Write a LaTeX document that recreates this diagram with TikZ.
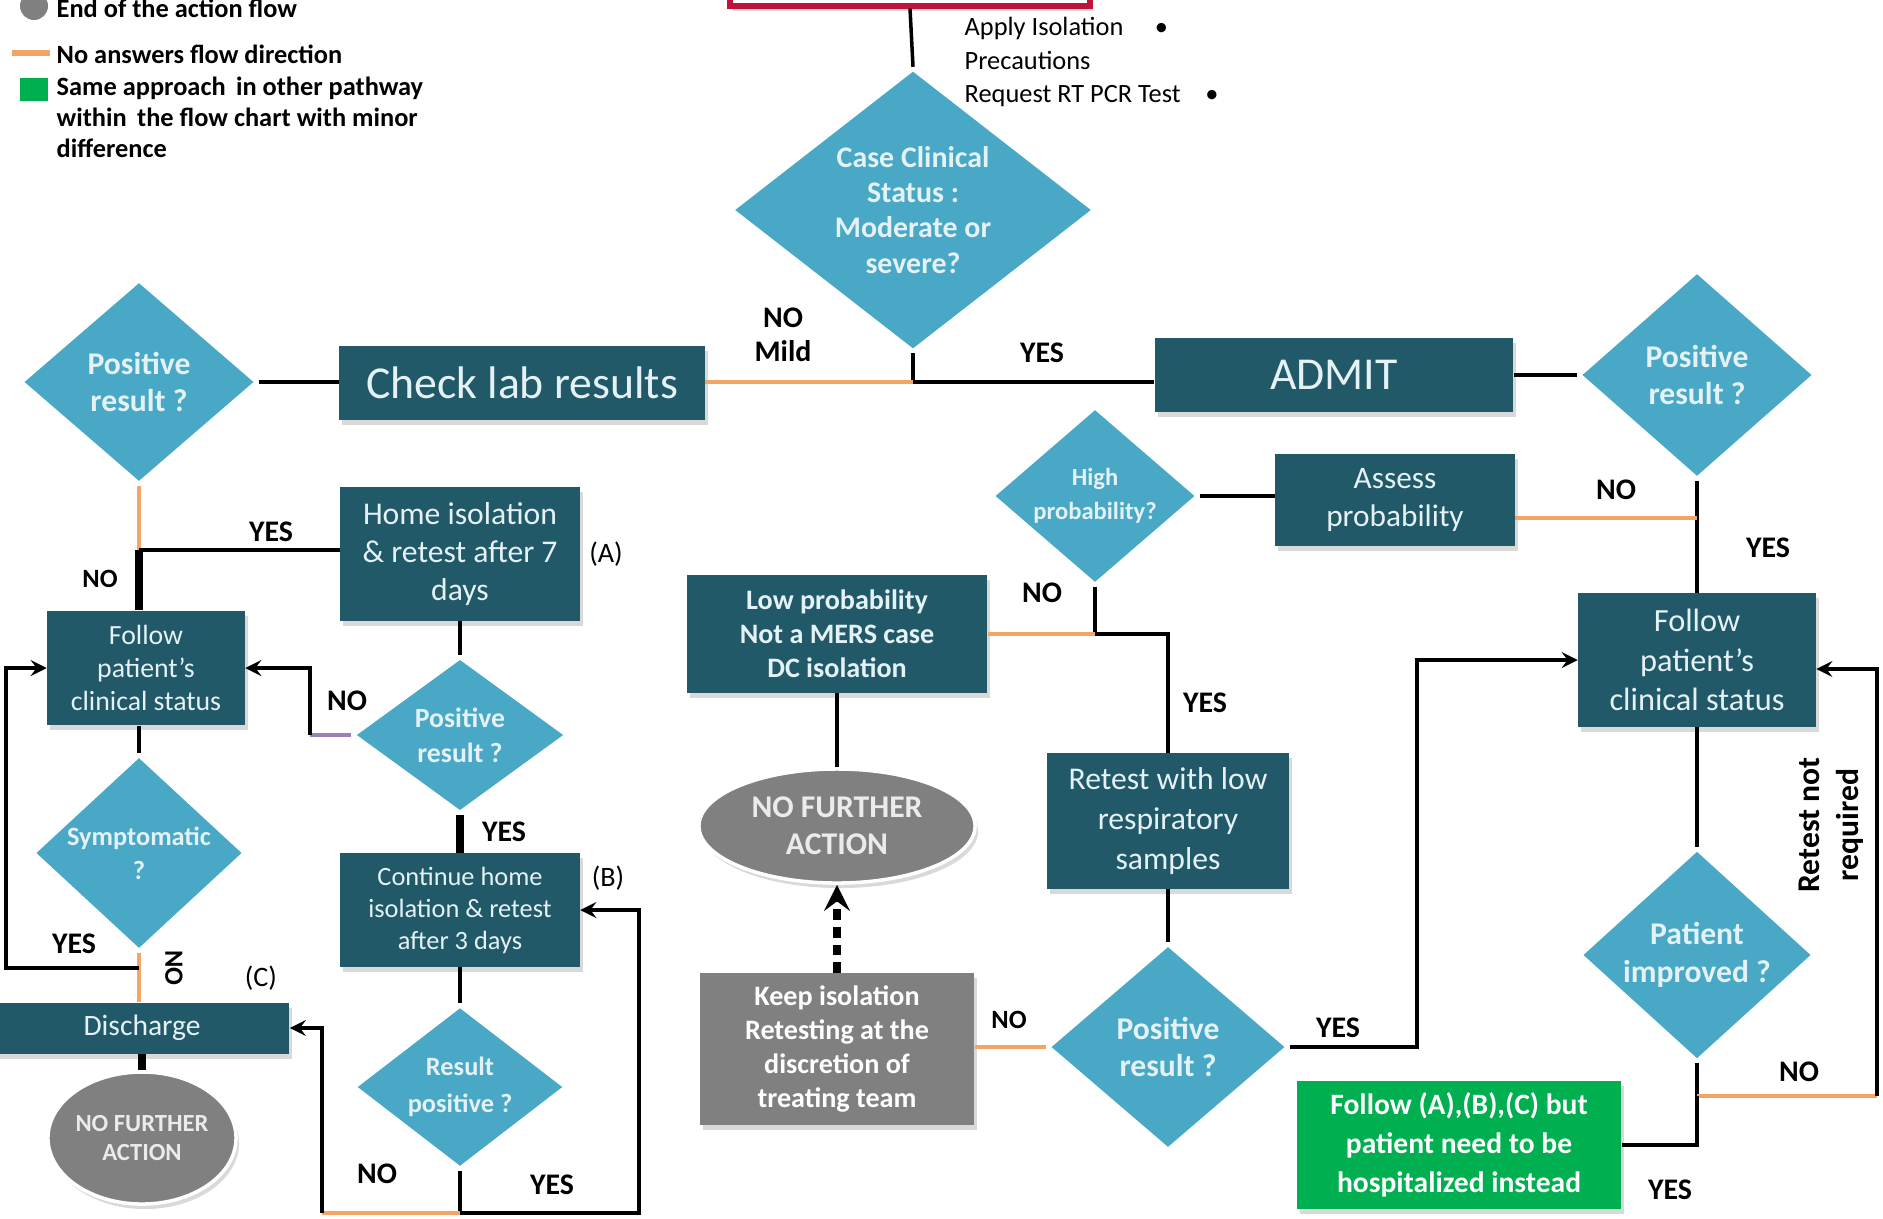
\documentclass[tikz,border=0pt]{standalone}
\usepackage{fontspec}
\setmainfont{Carlito}
\usetikzlibrary{shapes.geometric,shadows}

\definecolor{boxteal}{RGB}{33,89,104}
\definecolor{diamblue}{RGB}{72,168,198}
\definecolor{endgray}{RGB}{128,128,128}
\definecolor{noorange}{RGB}{242,165,100}
\definecolor{samegreen}{RGB}{0,176,80}
\definecolor{boxtxt}{RGB}{228,242,246}
\definecolor{topred}{RGB}{190,20,60}
\definecolor{nopurple}{RGB}{150,130,180}

\newcommand{\setfs}[2]{\fontsize{#1}{#2}\selectfont}

\tikzset{
  shade box/.style={drop shadow={shadow xshift=0.03cm,shadow yshift=-0.05cm,opacity=0.3}},
  tbox/.style={rectangle,fill=boxteal,text=boxtxt,align=center,inner sep=1pt,shade box},
  gbox/.style={tbox,fill=endgray,text=white},
  dec/.style={diamond,fill=diamblue,draw=white,line width=1pt,text=boxtxt,align=center,inner sep=0pt},
  endov/.style={ellipse,fill=endgray,draw=white,line width=1pt,text=white!92!black,align=center,inner sep=0pt,shade box},
  yesl/.style={draw=black,line width=1pt},
  nol/.style={draw=noorange,line width=1.3pt},
  thk/.style={draw=black,line width=2pt},
  lbl/.style={font=\bfseries\setfs{8.5}{10},inner sep=0pt},
  tag/.style={font=\setfs{8}{10},inner sep=0pt},
}

\begin{document}
\begin{tikzpicture}[x=0.01cm,y=-0.01cm,>=stealth]
  \useasboundingbox (0,0) rectangle (1883,1218);
  \clip (0,0) rectangle (1883,1218);

  % legend
  \fill[endgray] (34,6) circle (0.14cm);
  \draw[noorange,line width=1.6pt] (12,53) -- (50,53);
  \fill[samegreen] (20,78) rectangle (48,101);
  \node[anchor=west,inner sep=0pt,font=\bfseries\setfs{7.5}{8.8}] (lgend) at (56,8) {End of the action flow};
  \node[anchor=west,inner sep=0pt,font=\bfseries\setfs{7.5}{8.8}] (lgno) at (56,54) {No answers flow direction};
  \node[anchor=west,inner sep=0pt,align=left,font=\bfseries\setfs{7.5}{8.8}] (lgsame) at (56,117) {Same approach\, in other pathway\\within\, the flow chart with minor\\difference};

  % top
  \node[draw=topred,fill=white,line width=1.5pt,minimum width=3.6cm,minimum height=0.66cm,shade box] (topbox) at (910,-27) {};
  \node[anchor=west,inner sep=0pt,align=left,font=\setfs{7.5}{9.4}] (steps) at (964,62) {Apply Isolation\hspace{9pt}\textbullet\\Precautions\\Request RT PCR Test\hspace{7pt}\textbullet};

  \node[dec,minimum width=3.63cm,minimum height=2.57cm,font=\bfseries\setfs{8.5}{10}] (dcase) at (913,210) {Case Clinical\\Status :\\Moderate or\\severe?};
  \node[tbox,minimum width=3.65cm,minimum height=0.73cm,font=\setfs{13}{15}] (blab) at (522,383) {Check lab results};
  \node[tbox,minimum width=3.58cm,minimum height=0.73cm,font=\setfs{13}{15}] (badmit) at (1334,375) {ADMIT};

  % left pathway
  \node[dec,minimum width=2.36cm,minimum height=2.04cm,font=\bfseries\setfs{9}{10.5}] (dposL) at (139,382) {Positive\\result ?};
  \node[tbox,minimum width=2.39cm,minimum height=1.33cm,font=\setfs{9}{10.8}] (bhome) at (460,554) {Home isolation\\\& retest after 7\\days};
  \node[tbox,minimum width=1.97cm,minimum height=1.14cm,font=\setfs{7.9}{9.4}] (bfollowL) at (146,668) {Follow\\patient’s\\clinical status};
  \node[dec,minimum width=2.12cm,minimum height=1.58cm,font=\bfseries\setfs{7.5}{9.6}] (dsymp) at (139,853) {Symptomatic\\?};
  \node[tbox,minimum width=2.94cm,minimum height=0.51cm,font=\setfs{8.4}{10}] (bdis) at (142,1028) {Discharge};
  \node[endov,minimum width=1.88cm,minimum height=1.32cm,font=\bfseries\setfs{7}{8.5}] (eendL) at (142,1138) {NO FURTHER\\ACTION};
  \node[dec,minimum width=2.14cm,minimum height=1.56cm,font=\bfseries\setfs{7.9}{9.9}] (dposM) at (460,735) {Positive\\result ?};
  \node[tbox,minimum width=2.39cm,minimum height=1.13cm,font=\setfs{7.5}{9.1}] (bcont) at (460,910) {Continue home\\isolation \& retest\\after 3 days};
  \node[dec,minimum width=2.12cm,minimum height=1.48cm,font=\bfseries\setfs{7.5}{10.4}] (dres) at (460,1087) {Result\\positive ?};

  % middle pathway
  \node[tbox,minimum width=3cm,minimum height=1.17cm,font=\bfseries\setfs{8}{9.7}] (blow) at (837,634) {Low probability\\Not a MERS case\\DC isolation};
  \node[endov,minimum width=2.76cm,minimum height=1.14cm,font=\bfseries\setfs{9}{10.5}] (eendM) at (837,826) {NO FURTHER\\ACTION};
  \node[gbox,minimum width=2.74cm,minimum height=1.51cm,font=\bfseries\setfs{8}{9.7}] (bkeep) at (837,1049) {Keep isolation\\Retesting at the\\discretion of\\treating team};
  \node[dec,minimum width=2.06cm,minimum height=1.54cm,font=\bfseries\setfs{7}{9.6}] (dhigh) at (1095,496) {High\\probability?};
  \node[tbox,minimum width=2.39cm,minimum height=0.92cm,font=\setfs{8.9}{10.8}] (bassess) at (1395,500) {Assess\\probability};
  \node[tbox,minimum width=2.41cm,minimum height=1.35cm,font=\setfs{9}{11.3}] (bretest) at (1168,821) {Retest with low\\respiratory\\samples};
  \node[dec,minimum width=2.4cm,minimum height=2.06cm,font=\bfseries\setfs{9}{10.5}] (dposB) at (1168,1047) {Positive\\result ?};

  % right pathway
  \node[dec,minimum width=2.36cm,minimum height=2.08cm,font=\bfseries\setfs{9}{10.5}] (dposR) at (1697,375) {Positive\\result ?};
  \node[tbox,minimum width=2.37cm,minimum height=1.33cm,font=\setfs{9.2}{11.3}] (bfollowR) at (1697,660) {Follow\\patient’s\\clinical status};
  \node[dec,minimum width=2.34cm,minimum height=2.02cm,font=\bfseries\setfs{9}{10.8}] (dimpr) at (1697,955) {Patient\\improved ?};
  \node[tbox,fill=samegreen,text=white,minimum width=3.24cm,minimum height=1.28cm,font=\bfseries\setfs{8.4}{11}] (bgreen) at (1459,1145) {Follow (A),(B),(C) but\\patient need to be\\hospitalized instead};

  % junctions
  \coordinate (jcase) at (913,382);
  \coordinate (jL) at (139,550);
  \coordinate (jS) at (139,968);
  \coordinate (cS) at (6,968);
  \coordinate (cM) at (310,735);
  \coordinate (jR) at (460,1213);
  \coordinate (cR1) at (322,1213);
  \coordinate (cR2) at (639,1213);
  \coordinate (jH) at (1095,634);
  \coordinate (jA) at (1697,518);
  \coordinate (cB) at (1417,1047);
  \coordinate (jI) at (1697,1096);
  \coordinate (cI) at (1877,1096);

  % connectors
  \draw[yesl] (topbox.south) -- (dcase.north);
  \draw[yesl] (dcase.south) -- (jcase);
  \draw[nol] (jcase) -- (jcase -| blab.east);
  \draw[yesl] (jcase) -- (jcase -| badmit.west);
  \draw[yesl] (dposL.east) -- (dposL.east -| blab.west);
  \draw[nol] (dposL.south) -- (jL);
  \draw[yesl] (jL) -- (jL -| bhome.west);
  \draw[thk] (jL) -- (jL |- bfollowL.north);
  \draw[yesl] (dsymp.north |- bfollowL.south) -- (dsymp.north);
  \draw[nol] (dsymp.south) -- (dsymp.south |- bdis.north);
  \draw[yesl,->] (jS) -- (cS) |- (bfollowL.west);
  \draw[thk] (bdis.south) -- (eendL.north);
  \draw[yesl] (bhome.south) -- (dposM.north);
  \draw[draw=nopurple,line width=1pt] (dposM.west) -- (cM);
  \draw[yesl,->] (cM) |- (bfollowL.east);
  \draw[thk] (dposM.south) -- (bcont.north);
  \draw[yesl] (bcont.south) -- (dres.north);
  \draw[yesl] (dres.south) -- (jR);
  \draw[nol] (jR) -- (cR1);
  \draw[yesl,->] (cR1) |- (bdis.east);
  \draw[yesl,->] (jR) -- (cR2) |- (bcont.east);
  \draw[yesl] (blow.south) -- (eendM.north);
  \draw[line width=2.2pt,dash pattern=on 3pt off 2pt,->] (bkeep.north) -- (eendM.south);
  \draw[yesl] (badmit.east) -- (dposR.west);
  \draw[yesl] (dposR.south) -- (bfollowR.north);
  \draw[nol] (jA) -- (jA -| bassess.east);
  \draw[yesl] (dhigh.east) -- (dhigh.east -| bassess.west);
  \draw[yesl] (dhigh.south) -- (jH);
  \draw[nol] (jH) -- (jH -| blow.east);
  \draw[yesl] (jH) -| (bretest.north);
  \draw[yesl] (bretest.south) -- (dposB.north);
  \draw[nol] (dposB.west) -- (dposB.west -| bkeep.east);
  \draw[yesl,->] (dposB.east) -- (cB) |- (bfollowR.west);
  \draw[yesl] (bfollowR.south) -- (dimpr.north);
  \draw[yesl] (dimpr.south) -- (jI);
  \draw[nol] (jI) -- (cI);
  \draw[yesl,->] (cI) |- ([yshift=-0.09cm]bfollowR.east);
  \draw[yesl] (jI) |- (bgreen.east);

  % labels
  \node[lbl,align=center,font=\bfseries\setfs{8.5}{9.6}] (lnomild) at (783,335) {NO\\Mild};
  \node[lbl] (lyesA) at (1042,353) {YES};
  \node[lbl] (lyesB) at (271,532) {YES};
  \node[lbl,font=\bfseries\setfs{7.5}{9}] (lnoB) at (100,579) {NO};
  \node[tag] (ta) at (606,554) {(A)};
  \node[lbl] (lnoC) at (347,701) {NO};
  \node[lbl] (lyesC) at (504,832) {YES};
  \node[tag] (tb) at (608,878) {(B)};
  \node[lbl] (lyesD) at (74,944) {YES};
  \node[lbl,rotate=-90,font=\bfseries\setfs{7.5}{9}] (lnoD) at (174,968) {NO};
  \node[tag] (tc) at (261,978) {(C)};
  \node[lbl] (lnoE) at (377,1174) {NO};
  \node[lbl] (lyesE) at (552,1185) {YES};
  \node[lbl] (lnoF) at (1042,593) {NO};
  \node[lbl] (lyesF) at (1205,703) {YES};
  \node[lbl,font=\bfseries\setfs{7.5}{9}] (lnoG) at (1009,1020) {NO};
  \node[lbl] (lyesG) at (1338,1028) {YES};
  \node[lbl] (lnoH) at (1616,490) {NO};
  \node[lbl] (lyesH) at (1768,548) {YES};
  \node[lbl] (lnoI) at (1799,1072) {NO};
  \node[lbl] (lyesI) at (1670,1190) {YES};
  \node[lbl,rotate=90,align=center,font=\bfseries\setfs{9}{11}] (lretest) at (1831,825) {Retest not\\required};
\end{tikzpicture}
\end{document}
